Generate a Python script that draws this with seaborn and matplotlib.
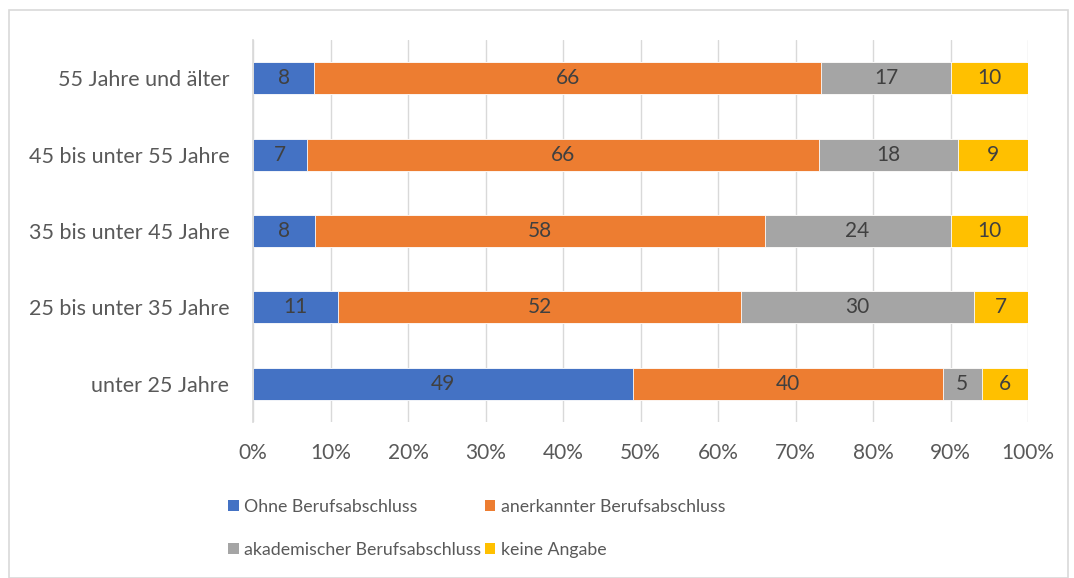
import numpy as np
import pandas as pd
import seaborn as sns
import matplotlib.pyplot as plt
from matplotlib.patches import Rectangle, Patch

categories = ["55 Jahre und älter", "45 bis unter 55 Jahre", "35 bis unter 45 Jahre",
              "25 bis unter 35 Jahre", "unter 25 Jahre"]
series_names = ["Ohne Berufsabschluss", "anerkannter Berufsabschluss",
                "akademischer Berufsabschluss", "keine Angabe"]
ohne = [8, 7, 8, 11, 49]
anerkannt = [66, 66, 58, 52, 40]
akademisch = [17, 18, 24, 30, 5]
keine = [10, 9, 10, 7, 6]
colors = ["#4472C4", "#ED7D31", "#A5A5A5", "#FFC000"]
x_ticks = [0, 10, 20, 30, 40, 50, 60, 70, 80, 90, 100]

sns.set_theme(style="white")
plt.rcParams["font.family"] = ["Lato", "DejaVu Sans"]
text_col = "#595959"

df = pd.DataFrame({"cat": categories, series_names[0]: ohne, series_names[1]: anerkannt,
                   series_names[2]: akademisch, series_names[3]: keine})
vals = df[series_names].to_numpy(dtype=float)
share = vals / vals.sum(axis=1, keepdims=True) * 100
cum = np.cumsum(share, axis=1)

fig = plt.figure(figsize=(10.74, 5.78), dpi=100)
ax = fig.add_axes([253 / 1074, 1 - 422 / 578, 775 / 1074, 382 / 578])

# draw cumulative layers from right to left so each one covers the next
for i in range(len(series_names) - 1, -1, -1):
    sns.barplot(x=cum[:, i], y=df["cat"], color=colors[i], orient="h", width=0.42,
                edgecolor="white", linewidth=0.6, saturation=1, ax=ax, zorder=3)

for r in range(len(categories)):
    left = 0
    for i in range(len(series_names)):
        ax.text(left + share[r, i] / 2, r, str(int(vals[r, i])), ha="center", va="center",
                fontsize=15, color="#404040", zorder=5)
        left = cum[r, i]

ax.set_xlim(0, 100)
ax.set_xticks(x_ticks)
ax.set_xticklabels([f"{t}%" for t in x_ticks])
ax.set_xlabel("")
ax.set_ylabel("")
ax.tick_params(axis="x", length=0, labelsize=15, colors=text_col, pad=15)
ax.tick_params(axis="y", length=0, labelsize=15.5, colors=text_col, pad=17)
ax.grid(axis="x", color="#D9D9D9", linewidth=1, zorder=0)
for s in ["top", "right", "bottom"]:
    ax.spines[s].set_visible(False)
ax.spines["left"].set_color("#D9D9D9")
ax.spines["left"].set_zorder(4)

handles = [Patch(facecolor=colors[k], edgecolor="none") for k in [0, 2, 1, 3]]
labels = [series_names[k] for k in [0, 2, 1, 3]]
fig.legend(handles, labels, ncol=2, loc="upper left", bbox_to_anchor=(228 / 1074, 1 - 499 / 578),
           frameon=False, fontsize=12.8, labelcolor=text_col, handlelength=0.6, handleheight=0.6,
           handletextpad=0.3, columnspacing=0.2, labelspacing=1.5, borderpad=0, borderaxespad=0)

fig.patches.append(Rectangle((9 / 1074, 0), 1059 / 1074, 1 - 10 / 578, transform=fig.transFigure,
                             fill=False, edgecolor="#D9D9D9", linewidth=1.2))

fig.savefig("out.png", dpi=100)
